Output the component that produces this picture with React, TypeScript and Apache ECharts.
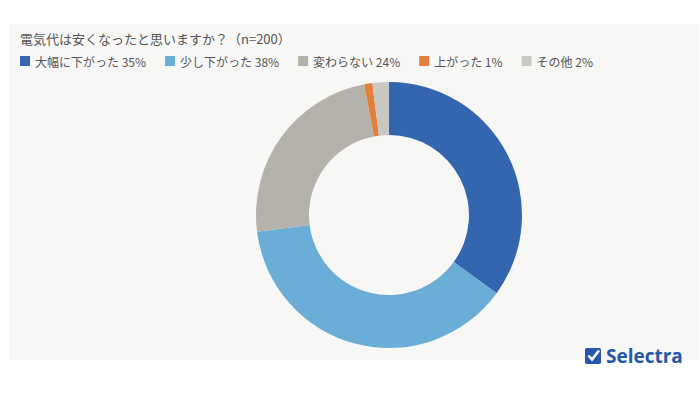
import React, { useEffect, useRef } from "react";
import * as echarts from "echarts";

const categories = ["大幅に下がった", "少し下がった", "変わらない", "上がった", "その他"];
const values = [35, 38, 24, 1, 2];
const colors = ["#3366ae", "#6aadd7", "#b5b2ab", "#e27f3b", "#cac8c3"];
const titleText = "電気代は安くなったと思いますか？（n=200）";

export default function App() {
  const ref = useRef<HTMLDivElement>(null);
  useEffect(() => {
    const chart = echarts.init(ref.current!, undefined, { renderer: "svg" });
    const valueOf: Record<string, number> = {};
    categories.forEach((c, i) => (valueOf[c] = values[i]));
    chart.setOption({
      animation: false,
      backgroundColor: "#ffffff",
      textStyle: { fontFamily: "Noto Sans CJK JP" },
      title: {
        text: titleText,
        left: 15,
        top: 27,
        textStyle: { fontSize: 13, fontWeight: "normal", color: "#555555", fontFamily: "Noto Sans CJK JP" },
      },
      legend: {
        left: 15,
        top: 50,
        icon: "rect",
        itemWidth: 10,
        itemHeight: 10,
        itemGap: 19,
        selectedMode: false,
        formatter: (name: string) => `${name} ${valueOf[name]}%`,
        textStyle: { fontSize: 12, color: "#555555", fontFamily: "Noto Sans CJK JP" },
        data: categories,
      },
      graphic: [
        {
          type: "rect",
          z: -10,
          silent: true,
          shape: { x: 9, y: 24, width: 690, height: 336 },
          style: { fill: "#f7f7f5" },
        },
        {
          type: "rect",
          z: 10,
          shape: { x: 585, y: 348, width: 16, height: 16, r: 2 },
          style: { fill: "#2457ab" },
        },
        {
          type: "polyline",
          z: 11,
          shape: { points: [[588.5, 355.5], [592, 359.5], [599, 350.5]] },
          style: { stroke: "#ffffff", lineWidth: 2.6, fill: "none" },
        },
        {
          type: "text",
          z: 10,
          x: 606,
          y: 356,
          style: {
            text: "Selectra",
            fill: "#2457ab",
            font: "bold 19px 'Open Sans'",
            verticalAlign: "middle",
            align: "left",
          },
        },
      ],
      series: [
        {
          type: "pie",
          center: [389, 215],
          radius: [80, 133],
          startAngle: 90,
          clockwise: true,
          label: { show: false },
          labelLine: { show: false },
          emphasis: { disabled: true },
          itemStyle: { borderWidth: 0 },
          data: categories.map((c, i) => ({ name: c, value: values[i], itemStyle: { color: colors[i] } })),
        },
      ],
    });
    return () => chart.dispose();
  }, []);
  return <div ref={ref} style={{ position: "absolute", left: 0, top: 0, width: 700, height: 400 }} />;
}
